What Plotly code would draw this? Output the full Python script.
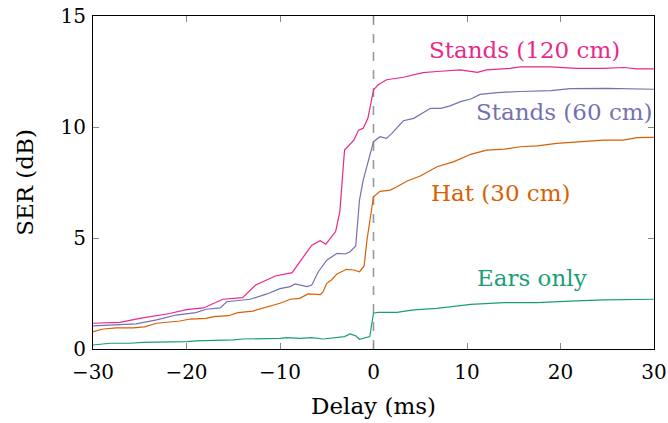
import plotly.graph_objects as go

# Stands (120 cm)
x_s120 = [-30, -27.1, -25, -21.8, -20, -18.2, -16.1, -14, -12.6, -10.5, -8.7, -8, -6.6, -5.7, -5.1, -4.05, -3.6, -3.1, -2.1, -1.6, -1.1, -0.6, 0, 0.5, 1.4, 3.2, 5.3, 6.8, 9.3, 11.1, 12.1, 14.6, 15.7, 18.9, 21.8, 24.6, 26.8, 28.2, 30]
y_s120 = [1.16, 1.2, 1.38, 1.6, 1.77, 1.85, 2.24, 2.31, 2.88, 3.29, 3.44, 3.86, 4.68, 4.88, 4.72, 5.29, 6.19, 8.96, 9.41, 9.86, 9.94, 10.39, 11.67, 11.9, 12.13, 12.24, 12.45, 12.5, 12.57, 12.46, 12.57, 12.64, 12.71, 12.71, 12.64, 12.64, 12.68, 12.62, 12.62]

# Stands (60 cm)
x_s60 = [-30, -27.1, -25.4, -23.2, -21.1, -19, -17.9, -16.4, -15.7, -13.2, -11.4, -10, -8.9, -8.4, -7.1, -6.6, -5.9, -5.0, -3.9, -3.0, -2.5, -1.9, -1.5, -1.1, -0.5, 0, 0.7, 1.4, 1.96, 2.9, 3.2, 4.3, 5.4, 6.1, 7.2, 8.2, 9.3, 10.4, 11.4, 13.2, 15.7, 17.9, 19, 21, 22.9, 25, 30]
y_s60 = [1.04, 1.08, 1.13, 1.31, 1.53, 1.64, 1.79, 1.85, 2.13, 2.24, 2.48, 2.72, 2.81, 2.93, 2.81, 2.88, 3.48, 4.0, 4.31, 4.28, 4.38, 4.64, 6.71, 7.61, 8.51, 9.34, 9.56, 9.49, 9.71, 10.16, 10.28, 10.39, 10.65, 10.84, 10.84, 10.95, 11.14, 11.26, 11.47, 11.55, 11.6, 11.62, 11.64, 11.73, 11.74, 11.74, 11.7]

# Hat (30 cm)
x_hat = [-30, -28.9, -27.5, -25.7, -24.5, -23.2, -20.7, -19.6, -17.9, -17.1, -15.5, -14.5, -12.9, -11.4, -10, -8.9, -7.9, -7, -5.7, -5.4, -5, -4.5, -3.9, -2.9, -2.1, -1.5, -1, -0.7, 0, 0.7, 1.8, 2.5, 3.6, 5.0, 6.8, 8.6, 10.4, 12.1, 14, 15.7, 17.5, 19.6, 21, 22.8, 24.6, 26.7, 28.2, 30]
y_hat = [0.78, 0.9, 0.95, 0.95, 1.0, 1.16, 1.26, 1.35, 1.38, 1.46, 1.5, 1.64, 1.71, 1.88, 2.06, 2.24, 2.28, 2.48, 2.45, 2.57, 2.96, 3.11, 3.38, 3.59, 3.56, 3.48, 3.74, 4.91, 6.86, 7.1, 7.16, 7.31, 7.57, 7.79, 8.21, 8.44, 8.77, 8.96, 9.0, 9.11, 9.15, 9.26, 9.3, 9.38, 9.41, 9.41, 9.52, 9.53]

# Ears only
x_ears = [-30, -28.2, -26.1, -24.6, -20, -19, -15, -14, -10, -9.3, -7.9, -6.6, -5.4, -3.9, -3.1, -2.5, -1.9, -1.5, -1.1, -0.4, 0, 0.5, 2.5, 4.3, 6.8, 7.9, 8.6, 10.4, 14, 17.5, 21, 24.6, 30]
y_ears = [0.18, 0.26, 0.26, 0.3, 0.33, 0.37, 0.41, 0.45, 0.48, 0.51, 0.48, 0.51, 0.45, 0.51, 0.56, 0.68, 0.59, 0.44, 0.48, 0.56, 1.61, 1.65, 1.65, 1.76, 1.83, 1.88, 1.94, 2.01, 2.09, 2.09, 2.16, 2.21, 2.24]

series_names = ["Stands (120 cm)", "Stands (60 cm)", "Hat (30 cm)", "Ears only"]
series_colors = ["#e7298a", "#7570b3", "#d95f02", "#1b9e77"]
label_x = [16.2, 20.4, 13.6, 17.0]
label_y = [13.47, 10.68, 7.03, 3.2]

x_ticks = [-30, -20, -10, 0, 10, 20, 30]
y_ticks = [0, 5, 10, 15]

FONT = "'DejaVu Serif', serif"
TICK_FS = 20
TITLE_FS = 23
LABEL_FS = 23

fig = go.Figure()
data = [(x_s120, y_s120), (x_s60, y_s60), (x_hat, y_hat), (x_ears, y_ears)]
for (xs, ys), name, col in zip(data, series_names, series_colors):
    fig.add_trace(go.Scatter(x=xs, y=ys, mode="lines", name=name,
                             line=dict(color=col, width=1.2), showlegend=False))

for name, col, lx, ly in zip(series_names, series_colors, label_x, label_y):
    fig.add_annotation(x=lx, y=ly, text=name, showarrow=False,
                       font=dict(family=FONT, size=LABEL_FS, color=col),
                       xanchor="center", yanchor="middle")

fig.add_shape(type="line", x0=0, x1=0, y0=0, y1=1, xref="x", yref="paper",
              line=dict(color="#999999", width=1.6, dash="dash"), layer="below")

axis_common = dict(showgrid=False, zeroline=False, showline=True, linecolor="black",
                   linewidth=1.2, mirror="ticks", ticks="inside", ticklen=6,
                   tickcolor="#888888", tickwidth=1, automargin=False,
                   tickfont=dict(family=FONT, size=TICK_FS, color="black"))

fig.update_xaxes(range=[-30, 30], tickvals=x_ticks, ticklabelstandoff=5,
                 title=dict(text="Delay (ms)", font=dict(family=FONT, size=TITLE_FS, color="black"), standoff=14),
                 **axis_common)
fig.update_yaxes(range=[0, 15], tickvals=y_ticks, ticklabelstandoff=2,
                 title=dict(text="SER (dB)", font=dict(family=FONT, size=TITLE_FS, color="black"), standoff=20),
                 **axis_common)

fig.update_layout(width=668, height=423, margin=dict(l=93, r=14, t=16, b=74),
                  plot_bgcolor="white", paper_bgcolor="white",
                  font=dict(family=FONT, size=TICK_FS, color="black"))

fig.write_html("out.html")
